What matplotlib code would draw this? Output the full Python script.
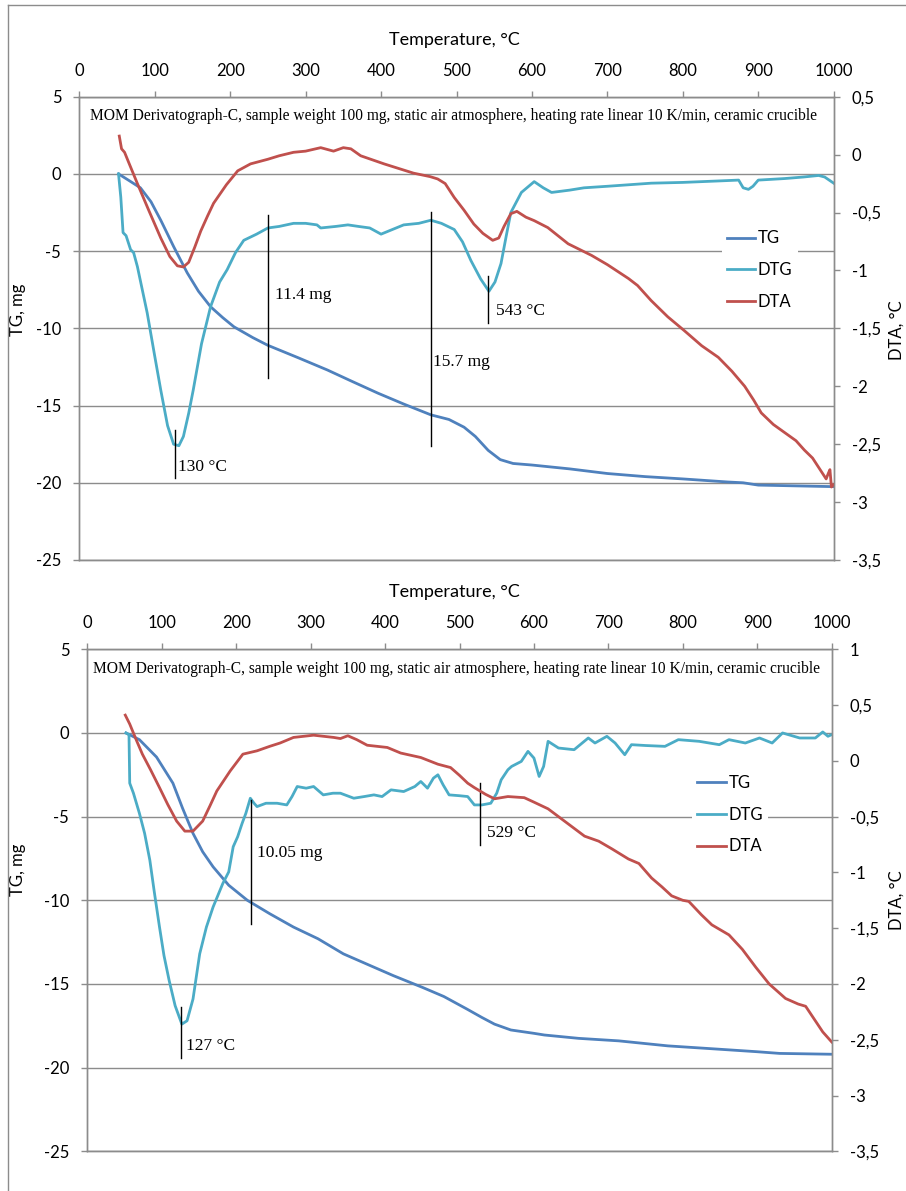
import matplotlib
matplotlib.use("Agg")
import matplotlib.pyplot as plt
from matplotlib.lines import Line2D
from matplotlib.ticker import FixedLocator, FuncFormatter

FIGURE_DPI = 100

# Office 2007 palette
TG_COLOR = "#4F81BD"
DTG_COLOR = "#4BACC6"
DTA_COLOR = "#C0504D"
GRID_COLOR = "#8C8C8C"

LABEL_FONT = "Lato"
NOTE_FONT = "Liberation Serif"
NOTE_TEXT = ("MOM Derivatograph-C, sample weight 100 mg, static air atmosphere, "
             "heating rate linear 10 K/min, ceramic crucible")

# ---- upper sample -------------------------------------------------------
top_tg_t = [52, 65, 81, 95, 108, 125, 143, 158, 174, 190, 205, 230, 250, 290, 329, 360,
            396, 430, 466, 490, 510, 525, 542, 558, 575, 600, 650, 700, 750, 800, 860,
            880, 900, 950, 1000]
top_tg = [0, -0.4, -0.9, -1.8, -3.0, -4.7, -6.4, -7.6, -8.6, -9.3, -9.9, -10.6, -11.1,
          -11.9, -12.7, -13.4, -14.2, -14.9, -15.6, -15.9, -16.4, -17.0, -17.9, -18.5,
          -18.75, -18.85, -19.1, -19.4, -19.6, -19.75, -19.95, -20.0, -20.15, -20.2, -20.25]

top_dtg_t = [52, 55, 58, 62, 68, 72, 77, 90, 100, 108, 117, 125, 132, 138, 145, 151, 162,
             174, 186, 196, 207, 218, 235, 250, 265, 284, 300, 315, 320, 340, 356, 370,
             385, 400, 415, 430, 450, 466, 480, 497, 508, 519, 532, 543, 551, 559, 566,
             572, 586, 603, 615, 626, 650, 669, 700, 758, 800, 850, 874, 880, 887, 893,
             900, 935, 960, 980, 988, 1000]
top_dtg = [0, -1.5, -3.8, -4.0, -4.9, -5.1, -6.0, -9.0, -11.8, -14.0, -16.3, -17.5, -17.6,
           -17.0, -15.5, -14.0, -11.0, -8.6, -7.0, -6.2, -5.1, -4.3, -3.9, -3.5, -3.4,
           -3.2, -3.2, -3.3, -3.5, -3.4, -3.3, -3.4, -3.5, -3.9, -3.6, -3.3, -3.2, -3.0,
           -3.2, -3.6, -4.4, -5.6, -6.8, -7.6, -7.0, -5.8, -4.0, -2.5, -1.2, -0.5, -0.9,
           -1.2, -1.05, -0.9, -0.8, -0.6, -0.55, -0.45, -0.4, -0.9, -1.0, -0.8, -0.4,
           -0.3, -0.2, -0.1, -0.2, -0.6]

top_dta_t = [53, 56, 60, 65, 77, 92, 108, 120, 130, 138, 145, 153, 161, 170, 178, 195,
             210, 227, 250, 265, 284, 300, 320, 337, 350, 360, 373, 404, 443, 465, 475,
             485, 497, 510, 523, 535, 548, 556, 563, 572, 580, 592, 603, 621, 648, 679,
             700, 728, 740, 758, 780, 802, 825, 847, 865, 882, 894, 904, 920, 935, 950,
             961, 972, 980, 990, 993, 995, 997, 1000]
top_dta = [0.16, 0.05, 0.02, -0.06, -0.25, -0.48, -0.72, -0.88, -0.96, -0.97, -0.93,
           -0.8, -0.66, -0.53, -0.42, -0.26, -0.14, -0.08, -0.04, -0.01, 0.02, 0.03, 0.06,
           0.03, 0.06, 0.05, -0.01, -0.08, -0.16, -0.19, -0.21, -0.25, -0.37, -0.48,
           -0.6, -0.68, -0.74, -0.72, -0.62, -0.51, -0.49, -0.54, -0.57, -0.63, -0.77,
           -0.87, -0.95, -1.07, -1.13, -1.26, -1.4, -1.52, -1.65, -1.75, -1.87, -2.0,
           -2.12, -2.23, -2.33, -2.4, -2.47, -2.55, -2.62, -2.7, -2.8, -2.75, -2.72,
           -2.87, -2.85]

# ---- lower sample -------------------------------------------------------
bot_tg_t = [52, 70, 93, 115, 128, 142, 155, 169, 190, 215, 245, 277, 310, 344, 380, 411,
            450, 479, 510, 530, 547, 569, 600, 614, 660, 714, 780, 849, 900, 930, 1000]
bot_tg = [0, -0.4, -1.44, -3.0, -4.5, -6.0, -7.1, -8.0, -9.1, -10.0, -10.8, -11.6,
          -12.3, -13.2, -13.9, -14.5, -15.2, -15.75, -16.5, -17.0, -17.4, -17.75, -17.95,
          -18.05, -18.25, -18.4, -18.7, -18.9, -19.05, -19.15, -19.2]

bot_dtg_t = [52, 56, 57, 62, 70, 77, 84, 90, 97, 103, 110, 118, 127, 134, 142, 151, 160,
             169, 182, 190, 196, 202, 208, 213, 219, 224, 228, 240, 255, 268, 275, 282,
             294, 304, 317, 330, 340, 358, 372, 385, 396, 408, 425, 440, 448, 457, 465,
             471, 478, 486, 500, 511, 520, 530, 542, 550, 556, 565, 570, 583, 592, 600,
             607, 613, 619, 633, 654, 673, 682, 698, 709, 722, 731, 750, 776, 794, 822,
             849, 862, 884, 903, 920, 934, 957, 978, 988, 995, 1000]
bot_dtg = [0, -0.1, -3.0, -3.6, -4.8, -6.0, -7.6, -9.5, -11.6, -13.3, -14.8, -16.3, -17.4,
           -17.2, -15.9, -13.2, -11.6, -10.4, -9.0, -8.3, -6.8, -6.2, -5.4, -4.8, -3.9,
           -4.2, -4.4, -4.2, -4.2, -4.3, -3.8, -3.2, -3.3, -3.2, -3.7, -3.6, -3.6, -3.9,
           -3.8, -3.7, -3.8, -3.4, -3.5, -3.2, -2.9, -3.3, -2.7, -2.5, -3.1, -3.7, -3.75,
           -3.8, -4.3, -4.3, -4.2, -3.6, -2.8, -2.2, -2.0, -1.7, -1.1, -1.5, -2.6, -2.0,
           -0.5, -0.9, -1.0, -0.3, -0.6, -0.2, -0.6, -1.3, -0.7, -0.75, -0.8, -0.4, -0.5,
           -0.7, -0.4, -0.6, -0.3, -0.6, 0.0, -0.3, -0.3, 0.06, -0.2, -0.1]

bot_dta_t = [51, 57, 65, 74, 85, 97, 108, 120, 131, 142, 155, 165, 174, 192, 209, 228,
             245, 259, 277, 304, 331, 340, 350, 362, 376, 403, 421, 448, 471, 488, 500,
             511, 520, 535, 547, 556, 565, 587, 600, 619, 641, 668, 687, 705, 727, 741,
             758, 772, 785, 800, 808, 825, 839, 862, 880, 898, 916, 938, 955, 965, 975,
             988, 1000]
bot_dta = [0.41, 0.33, 0.2, 0.06, -0.08, -0.24, -0.39, -0.54, -0.63, -0.63, -0.54, -0.4,
           -0.27, -0.09, 0.06, 0.09, 0.13, 0.16, 0.21, 0.23, 0.21, 0.2, 0.225, 0.19, 0.14,
           0.12, 0.07, 0.03, -0.03, -0.06, -0.13, -0.2, -0.24, -0.3, -0.34, -0.33, -0.32,
           -0.33, -0.37, -0.43, -0.54, -0.675, -0.72, -0.79, -0.88, -0.92, -1.05, -1.13,
           -1.21, -1.25, -1.26, -1.38, -1.47, -1.56, -1.69, -1.85, -2.0, -2.13, -2.18,
           -2.2, -2.3, -2.43, -2.52]

# annotation markers: (temperature, y from, y to, label, label temperature, label y)
top_marks = [(127, -16.6, -19.7, "130 °C", 131, -19.0),
             (250, -2.65, -13.2, "11.4 mg", 259, -7.85),
             (466, -2.47, -17.6, "15.7 mg", 469, -12.2),
             (542, -6.6, -9.65, "543 °C", 553, -8.9)]
bot_marks = [(126, -16.4, -19.4, "127 °C", 133, -18.7),
             (220, -4.0, -11.4, "10.05 mg", 228, -7.2),
             (527, -3.0, -6.7, "529 °C", 537, -6.0)]

x_ticks = list(range(0, 1001, 100))
tg_ticks = [5, 0, -5, -10, -15, -20, -25]
top_dta_ticks = [0.5, 0, -0.5, -1, -1.5, -2, -2.5, -3, -3.5]
bot_dta_ticks = [1, 0.5, 0, -0.5, -1, -1.5, -2, -2.5, -3, -3.5]


def comma_fmt(v, pos=None):
    return "{:g}".format(round(v, 2)).replace(".", ",")


def draw_panel(fig, rect, tg_t, tg, dtg_t, dtg, dta_t, dta, dta_ticks, marks, cfg):
    ax = fig.add_axes(rect)
    ax2 = ax.twinx()

    l1, = ax.plot(tg_t, tg, color=TG_COLOR, lw=2.0, label="TG")
    l2, = ax.plot(dtg_t, dtg, color=DTG_COLOR, lw=2.0, label="DTG")
    l3, = ax2.plot(dta_t, dta, color=DTA_COLOR, lw=2.0, label="DTA")

    ax.set_xlim(0, 1000)
    ax.set_ylim(-25, 5)
    ax2.set_ylim(dta_ticks[-1], dta_ticks[0])

    ax.xaxis.tick_top()
    ax.xaxis.set_major_locator(FixedLocator(x_ticks))
    ax.yaxis.set_major_locator(FixedLocator(tg_ticks))
    ax2.yaxis.set_major_locator(FixedLocator(dta_ticks))
    ax.yaxis.set_major_formatter(FuncFormatter(comma_fmt))
    ax2.yaxis.set_major_formatter(FuncFormatter(comma_fmt))

    ax.grid(axis="y", color=GRID_COLOR, lw=1.0)
    ax.set_axisbelow(True)
    for a in (ax, ax2):
        for s in a.spines.values():
            s.set_color(GRID_COLOR)
            s.set_linewidth(1.0)
        a.tick_params(colors=GRID_COLOR, labelcolor="black", labelsize=12,
                      length=4, width=1.0, direction="out", pad=9)
        for lab in a.get_xticklabels() + a.get_yticklabels():
            lab.set_fontfamily(LABEL_FONT)

    ax.set_xlabel("Temperature, °C", fontsize=13, family=LABEL_FONT)
    ax.xaxis.set_label_position("top")
    ax.xaxis.set_label_coords(*cfg["xlabel"])
    ax.set_ylabel("TG, mg", fontsize=12, family=LABEL_FONT)
    ax.yaxis.set_label_coords(*cfg["ylabel"])
    ax2.set_ylabel("DTA, °C", fontsize=12, family=LABEL_FONT)
    ax2.yaxis.set_label_coords(*cfg["y2label"])

    ax.text(cfg["note"][0], cfg["note"][1], NOTE_TEXT, transform=ax.transAxes,
            ha="left", va="center", fontsize=11.2, family=NOTE_FONT)

    for t, y0, y1, text, tx, ty in marks:
        ax.plot([t, t], [y0, y1], color="black", lw=1.0)
        ax.text(tx, ty, text, ha="left", va="center", fontsize=12.5, family=NOTE_FONT)

    ax2.legend([l1, l2, l3], ["TG", "DTG", "DTA"], loc="upper left",
               bbox_to_anchor=cfg["legend"], frameon=True, fancybox=False,
               edgecolor="none", facecolor="white", framealpha=1.0,
               handlelength=1.7, handletextpad=0.15, labelspacing=0.95,
               borderpad=0.3, borderaxespad=0,
               prop={"family": LABEL_FONT, "size": 12})
    return ax, ax2


def main():
    W, H = 906, 1191
    fig = plt.figure(figsize=(W / FIGURE_DPI, H / FIGURE_DPI), dpi=FIGURE_DPI)
    fig.patch.set_facecolor("white")

    # outer frame
    fig.add_artist(Line2D([8 / W, 8 / W], [0, 1 - 5 / H], transform=fig.transFigure,
                          color=GRID_COLOR, lw=1.0))
    fig.add_artist(Line2D([8 / W, 1], [1 - 5 / H, 1 - 5 / H], transform=fig.transFigure,
                          color=GRID_COLOR, lw=1.0))

    top_rect = [79.3 / W, 1 - 560 / H, (833.7 - 79.3) / W, (560 - 96.7) / H]
    bot_rect = [87.3 / W, 1 - 1151.3 / H, (831.7 - 87.3) / W, (1151.3 - 649.3) / H]

    top_cfg = dict(xlabel=(0.497, 1.112), ylabel=(-0.070, 0.54), y2label=(1.073, 0.497),
                   note=(0.014, 0.958), legend=(0.852, 0.722))
    bot_cfg = dict(xlabel=(0.4926, 1.104), ylabel=(-0.082, 0.56), y2label=(1.076, 0.50),
                   note=(0.008, 0.961), legend=(0.813, 0.76))

    draw_panel(fig, top_rect, top_tg_t, top_tg, top_dtg_t, top_dtg, top_dta_t, top_dta,
               top_dta_ticks, top_marks, top_cfg)
    draw_panel(fig, bot_rect, bot_tg_t, bot_tg, bot_dtg_t, bot_dtg, bot_dta_t, bot_dta,
               bot_dta_ticks, bot_marks, bot_cfg)

    fig.savefig("out.png", dpi=FIGURE_DPI)


if __name__ == '__main__':
    main()
